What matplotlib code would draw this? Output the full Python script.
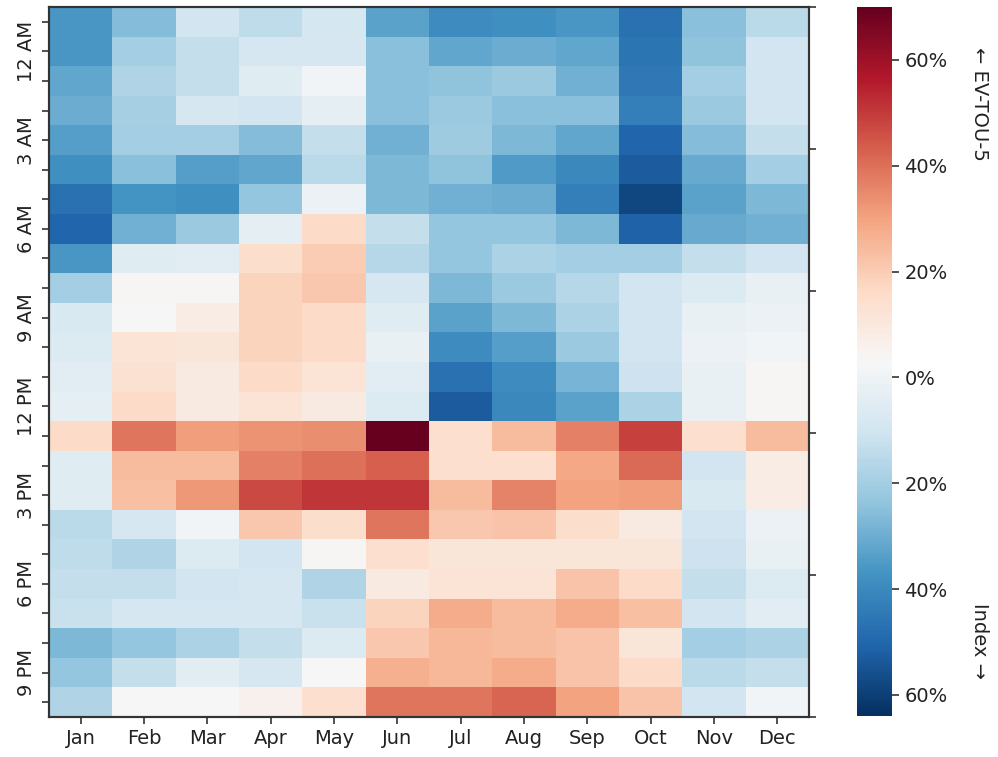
import numpy as np
import matplotlib
matplotlib.use("Agg")
import matplotlib.pyplot as plt

months = ["Jan", "Feb", "Mar", "Apr", "May", "Jun", "Jul", "Aug", "Sep", "Oct", "Nov", "Dec"]
hour_labels = ["12 AM", "3 AM", "6 AM", "9 AM", "12 PM", "3 PM", "6 PM", "9 PM"]
hour_label_rows = [1, 4, 7, 10, 13, 16, 19, 22]

# percent values, rows = 24 hours (top to bottom), columns = months
row00 = [-36, -26, -10, -14, -9, -33, -39, -38, -36, -47, -25, -15]
row01 = [-36, -20, -13, -8, -8, -25, -32, -30, -32, -46, -24, -10]
row02 = [-32, -17, -13, -5, 1, -25, -24, -22, -29, -45, -20, -10]
row03 = [-30, -19, -8, -10, -3, -25, -22, -25, -25, -43, -22, -10]
row04 = [-34, -20, -20, -26, -13, -29, -21, -27, -32, -50, -26, -13]
row05 = [-38, -25, -34, -32, -15, -27, -24, -35, -40, -53, -31, -20]
row06 = [-47, -37, -38, -23, -1, -27, -29, -30, -43, -58, -33, -27]
row07 = [-50, -29, -22, -3, 16, -13, -23, -23, -27, -51, -31, -29]
row08 = [-36, -5, -4, 15, 20, -16, -23, -18, -20, -20, -13, -10]
row09 = [-20, 4, 4, 18, 21, -8, -27, -22, -16, -10, -6, -2]
row10 = [-7, 3, 8, 18, 16, -5, -33, -27, -18, -10, -2, -1]
row11 = [-6, 12, 11, 18, 16, -2, -39, -34, -22, -10, -1, 1]
row12 = [-4, 13, 9, 16, 12, -4, -47, -39, -28, -11, -2, 4]
row13 = [-3, 16, 9, 12, 9, -6, -53, -40, -33, -18, -2, 4]
row14 = [16, 39, 31, 33, 34, 70, 14, 24, 37, 49, 14, 24]
row15 = [-5, 24, 24, 37, 40, 43, 14, 14, 29, 41, -10, 8]
row16 = [-5, 23, 32, 47, 51, 51, 24, 36, 30, 31, -7, 8]
row17 = [-15, -8, 1, 21, 15, 39, 21, 22, 15, 9, -10, -1]
row18 = [-14, -17, -6, -10, 4, 14, 11, 11, 11, 11, -11, -2]
row19 = [-13, -13, -10, -8, -17, 9, 12, 12, 22, 16, -13, -6]
row20 = [-12, -8, -8, -8, -12, 18, 28, 24, 28, 23, -10, -4]
row21 = [-27, -23, -18, -13, -6, 21, 25, 24, 22, 11, -20, -18]
row22 = [-23, -13, -4, -8, 3, 27, 25, 28, 22, 16, -15, -13]
row23 = [-17, 3, 3, 6, 14, 39, 39, 42, 30, 22, -10, 1]

data = np.array([row00, row01, row02, row03, row04, row05, row06, row07,
                 row08, row09, row10, row11, row12, row13, row14, row15,
                 row16, row17, row18, row19, row20, row21, row22, row23], dtype=float)

color_min, color_max = -64, 70
cbar_ticks = [-60, -40, -20, 0, 20, 40, 60]

plt.rcParams['font.family'] = ['DejaVu Sans']
W, H = 998, 757
fig = plt.figure(figsize=(W / 100, H / 100), dpi=100)

spine_col = "#333333"
txt_col = "#222222"
fs = 14
ax = fig.add_axes([49 / W, 1 - 717 / H, (809 - 49) / W, (717 - 7) / H])
im = ax.imshow(data, cmap="RdBu_r", vmin=color_min, vmax=color_max, aspect="auto",
               interpolation="nearest")
ax.set_xticks(np.arange(len(months)))
ax.set_xticklabels(months, fontsize=fs)
ax.set_yticks(np.arange(data.shape[0]))
ylabels = [""] * data.shape[0]
for r, lab in zip(hour_label_rows, hour_labels):
    ylabels[r] = lab
ax.set_yticklabels(ylabels, fontsize=fs, rotation=90, va="center")
ax.tick_params(axis="both", length=5, width=1.2, color=spine_col, labelcolor=txt_col, pad=4)
for s in ax.spines.values():
    s.set_color(spine_col)
    s.set_linewidth(1.5)

ax2 = ax.twinx()
ax2.set_ylim(0, 1)
ax2.set_yticks([0, 0.2, 0.4, 0.6, 0.8, 1.0])
ax2.set_yticklabels([])
ax2.tick_params(axis="y", length=5, width=1.2, color=spine_col)
for s in ax2.spines.values():
    s.set_color(spine_col)
    s.set_linewidth(1.5)

cax = fig.add_axes([857 / W, 1 - 716 / H, (892 - 857) / W, (716 - 7) / H])
cb = fig.colorbar(im, cax=cax, ticks=cbar_ticks)
cb.set_ticklabels([f"{abs(t)}%" for t in cbar_ticks])
cb.outline.set_visible(False)
cax.tick_params(length=5, width=1.2, color=spine_col, labelsize=fs, labelcolor=txt_col, pad=4)

fig.text(980 / W, 1 - 47 / H, "\u2190 EV-TOU-5", rotation=270, ha="center", va="top",
         fontsize=fs, color=txt_col)
fig.text(980 / W, 1 - 679 / H, "Index \u2192", rotation=270, ha="center", va="bottom",
         fontsize=fs, color=txt_col)

fig.savefig("out.png", dpi=100)
